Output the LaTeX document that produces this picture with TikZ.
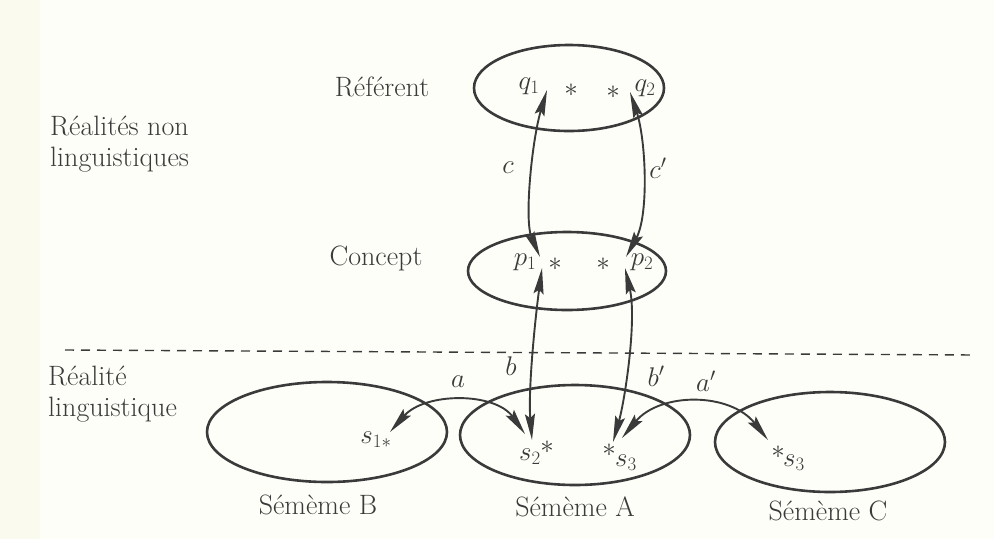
\documentclass[tikz,border=0pt]{standalone}
\usepackage{fix-cm}
\usetikzlibrary{shapes.geometric,arrows.meta}
\definecolor{ink}{HTML}{3A3A3A}
\definecolor{paper}{HTML}{FEFEF9}
\definecolor{strip}{HTML}{FAFAEE}
\tikzset{tipA/.tip={Stealth[length=26pt,width=10pt,inset=4pt]}}
\begin{document}
\begin{tikzpicture}[x=1pt,y=-1pt,
  every node/.style={font=\fontsize{28}{31}\selectfont, text=ink},
  oval/.style={draw=ink, line width=2.6pt, ellipse, inner sep=0pt},
  conn/.style={draw=ink, line width=1.9pt, tipA-tipA},
  lab/.style={inner sep=0pt},
  pt/.style={inner sep=0pt, font=\fontsize{27}{30}\selectfont}]
\fill[paper] (0,0) rectangle (994,539);
\fill[strip] (0,0) rectangle (40,539);
\useasboundingbox (0,0) rectangle (994,539);

% ellipses
\node[oval, minimum width=190pt, minimum height=86pt] (ref) at (569,88) {};
\node[oval, minimum width=198pt, minimum height=78pt] (con) at (567,271) {};
\node[oval, minimum width=240pt, minimum height=100pt] (semB) at (327,432) {};
\node[oval, minimum width=230pt, minimum height=100pt] (semA) at (575,435) {};
\node[oval, minimum width=230pt, minimum height=100pt] (semC) at (830,442) {};

% dashed separator
\coordinate (dl) at (65,350);
\coordinate (dr) at (975,355);
\draw[ink, line width=1.4pt, dash pattern=on 9pt off 7pt] (dl) -- (dr);

% left labels
\node[lab, anchor=base west, align=left] (rnl) at (50,166) {Réalités non\\linguistiques};
\node[lab, anchor=base west, align=left] (rl) at (48,416) {Réalité\\linguistique};
\node[lab] (lref) at (382,87) {Référent};
\node[lab] (lcon) at (376,258) {Concept};
\node[lab] (lB) at (318,505) {Sémème B};
\node[lab] (lA) at (575,507) {Sémème A};
\node[lab] (lC) at (828,511) {Sémème C};

% points
\node[pt] (q1) at (529,86) {$q_1$};
\node[pt] (sq1) at (571,90) {$*$};
\node[pt] (sq2) at (613,92) {$*$};
\node[pt] (q2) at (645,88) {$q_2$};
\node[pt] (p1) at (525,262) {$p_1$};
\node[pt] (sp1) at (555,264) {$*$};
\node[pt] (sp2) at (603,264) {$*$};
\node[pt] (p2) at (642,262) {$p_2$};
\node[pt] (s1) at (376,440) {$s_{1*}$};
\node[pt] (s2) at (530,457) {$s_2$};
\node[pt] (ss2) at (547,447) {$*$};
\node[pt] (ss3) at (609,450) {$*$};
\node[pt] (s3) at (626,463) {$s_3$};
\node[pt] (ssC) at (778,452) {$*$};
\node[pt] (sC) at (794,463) {$s_3$};

% arrow ends
\coordinate (q1t) at (547,90);
\coordinate (p1ta) at (540,257);
\coordinate (q2t) at (630,92);
\coordinate (p2ta) at (626,257);
\coordinate (p1tb) at (542,268);
\coordinate (s2tb) at (532,440);
\coordinate (p2tb) at (625,268);
\coordinate (s3tb) at (613,442);
\coordinate (s1t) at (390,432);
\coordinate (s2ta) at (525,434);
\coordinate (s3ta) at (622,438);
\coordinate (sCt) at (768,440);

\draw[conn] (q1t) .. controls (532,140) and (524,220) .. (p1ta);
\draw[conn] (q2t) .. controls (646,140) and (649,215) .. (p2ta);
\draw[conn] (p1tb) .. controls (535,320) and (528,390) .. (s2tb);
\draw[conn] (p2tb) .. controls (637,320) and (625,400) .. (s3tb);
\draw[conn] (s1t) .. controls (425,392) and (495,392) .. (s2ta);
\draw[conn] (s3ta) .. controls (660,392) and (730,392) .. (sCt);

% connector labels
\node[pt] (lc) at (508,168) {$c$};
\node[pt] (lcp) at (658,168) {$c'$};
\node[pt] (lb) at (511,366) {$b$};
\node[pt] (lbp) at (656,376) {$b'$};
\node[pt] (la) at (458,382) {$a$};
\node[pt] (lap) at (706,381) {$a'$};
\end{tikzpicture}
\end{document}
